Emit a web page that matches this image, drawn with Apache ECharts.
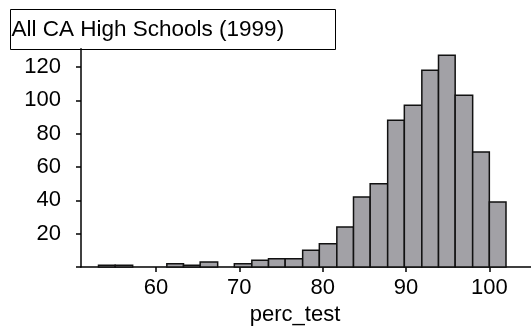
<!DOCTYPE html>
<html>
<head>
<meta charset="utf-8">
<script src="https://cdn.jsdelivr.net/npm/echarts@6/dist/echarts.min.js"></script>
<style>html,body{margin:0;padding:0;background:#fff}#c{width:531px;height:331px}</style>
</head>
<body>
<div id="c"></div>
<script>
const titleText = 'All CA High Schools (1999)';
const xName = 'perc_test';
const binEdges = [53.1, 55.1, 57.2, 59.2, 61.3, 63.3, 65.3, 67.4, 69.4, 71.5, 73.5, 75.5, 77.6, 79.6, 81.7, 83.7, 85.7, 87.8, 89.8, 91.9, 93.9, 95.9, 98.0, 100.0, 102.0];
const counts = [1, 1, 0, 0, 2, 1, 3, 0, 2, 4, 5, 5, 10, 14, 24, 42, 50, 88, 97, 118, 127, 103, 69, 39];
const xTicks = [60, 70, 80, 90, 100];
const yTicks = [0, 20, 40, 60, 80, 100, 120];
const yLabels = [20, 40, 60, 80, 100, 120];

const data = counts.map((c, i) => [binEdges[i], binEdges[i + 1], c]);
const font = '"Liberation Sans", Arial, sans-serif';

const chart = echarts.init(document.getElementById('c'), null, {renderer: 'canvas'});
chart.setOption({
  animation: false,
  backgroundColor: '#fff',
  graphic: [{
    type: 'group', left: 10, top: 9,
    children: [
      {type: 'rect', shape: {x: 0, y: 0, width: 325, height: 40}, style: {fill: '#fff', stroke: '#000', lineWidth: 1}},
      {type: 'text', x: 1, y: 20, style: {text: titleText, font: '22.5px ' + font, fill: '#000', verticalAlign: 'middle'}}
    ]
  }],
  grid: {left: 81, right: 0, top: 48.7, bottom: 61.3, containLabel: false},
  xAxis: {
    type: 'value', min: 51, max: 105,
    axisLine: {show: true, lineStyle: {color: '#000', width: 1.5}},
    axisTick: {show: true, length: 5, customValues: xTicks, lineStyle: {color: '#000', width: 1.5}},
    axisLabel: {customValues: xTicks, color: '#000', fontSize: 22, fontFamily: font, margin: 10},
    splitLine: {show: false},
    name: xName, nameLocation: 'middle', nameGap: 37,
    nameTextStyle: {color: '#000', fontSize: 22, fontFamily: font, padding: [0, 22, 0, 0]}
  },
  yAxis: {
    type: 'value', min: 0, max: 131,
    axisLine: {show: true, lineStyle: {color: '#000', width: 1.5}},
    axisTick: {show: true, length: 5, customValues: yTicks, lineStyle: {color: '#000', width: 1.5}},
    axisLabel: {customValues: yLabels, color: '#000', fontSize: 22, fontFamily: font, margin: 20},
    splitLine: {show: false}
  },
  series: [{
    type: 'custom',
    data: data,
    encode: {x: [0, 1], y: 2},
    renderItem: function (params, api) {
      const c = api.value(2);
      if (!c) return null;
      const p0 = api.coord([api.value(0), c]);
      const p1 = api.coord([api.value(1), 0]);
      return {
        type: 'rect',
        shape: {x: p0[0], y: p0[1], width: p1[0] - p0[0], height: p1[1] - p0[1]},
        style: {fill: '#a2a1a6', stroke: '#111', lineWidth: 1.5}
      };
    }
  }]
});
</script>
</body>
</html>
